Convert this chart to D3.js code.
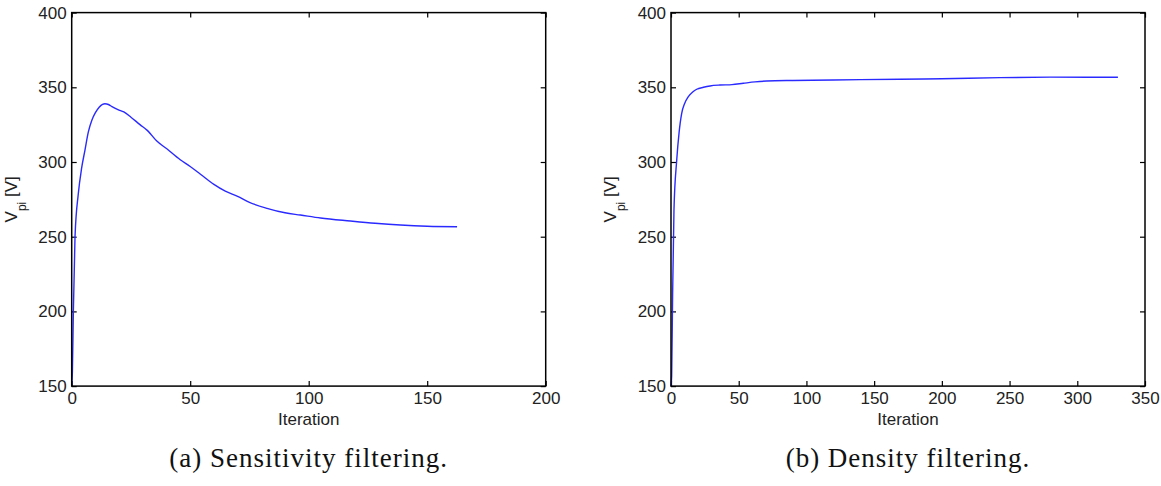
<!DOCTYPE html>
<html>
<head>
<meta charset="utf-8">
<script src="https://cdn.jsdelivr.net/npm/d3@7"></script>
<style>
  body { margin: 0; background: #fff; }
  svg { display: block; }
  .tick text { font-family: "Liberation Sans", Arial, sans-serif; font-size: 17px; fill: #222; }
  .tick line { stroke: #000; stroke-width: 1.2; }
  .domain { display: none; }
</style>
</head>
<body>
<svg width="1161" height="486"></svg>
<script>
// (a) sensitivity filtering
var iterA = [0, 0.3, 0.7, 1.4, 2.8, 4.2, 5.6, 7, 8.5, 10, 11.5, 13, 14, 15.5, 17, 19.5, 22, 25, 28.8, 32,
  35.9, 40, 45.8, 50, 54.2, 60, 64.8, 70, 75, 82.4, 90, 96.5, 105, 117.6, 128, 138.7, 150, 162.6];
var vpiA = [151, 160, 200, 250, 279, 296, 308, 320, 328, 333, 336.5, 338.5, 339, 338.5, 337, 335, 333.5, 330, 325, 321,
  314, 309, 301.5, 297, 292, 285, 280.5, 277, 273, 269, 266, 264.5, 262.5, 260.5, 259, 257.8, 257, 256.7];

// (b) density filtering
var iterB = [0, 0.5, 1.2, 2.2, 4.2, 6, 7.9, 10, 12.8, 16, 19, 24, 28.8, 36.2, 45, 53.4, 62, 70.7, 90, 119.9,
  169, 200, 243, 280, 330];
var vpiB = [150, 157, 212, 268, 301, 320, 332.6, 339, 343.7, 346.8, 348.7, 350, 350.9, 351.5, 351.8, 352.7, 353.6, 354.2, 354.6, 354.9,
  355.4, 355.7, 356.5, 356.8, 356.7];

var xTicksA = [0, 50, 100, 150, 200];
var xTicksB = [0, 50, 100, 150, 200, 250, 300, 350];
var yTicks = [150, 200, 250, 300, 350, 400];

var captions = ["(a) Sensitivity filtering.", "(b) Density filtering."];

var svg = d3.select("svg");
var plotW = 474, plotH = 373.5, plotTop = 12.6;

function panel(left, xs, ys, xMax, xTicks, caption) {
  var g = svg.append("g").attr("transform", "translate(" + left + "," + plotTop + ")");
  var x = d3.scaleLinear().domain([0, xMax]).range([0, plotW]);
  var y = d3.scaleLinear().domain([150, 400]).range([plotH, 0]);

  g.append("g").attr("transform", "translate(0," + plotH + ")")
    .call(d3.axisBottom(x).tickValues(xTicks).tickSize(-5).tickPadding(6));
  g.append("g").call(d3.axisTop(x).tickValues(xTicks).tickSize(-5).tickFormat(""));
  g.append("g").call(d3.axisLeft(y).tickValues(yTicks).tickSize(-5).tickPadding(5));
  g.append("g").attr("transform", "translate(" + plotW + ",0)")
    .call(d3.axisRight(y).tickValues(yTicks).tickSize(-5).tickFormat(""));

  var pts = xs.map(function(d, i) { return [d, ys[i]]; });
  var line = d3.line()
    .x(function(d) { return x(d[0]); })
    .y(function(d) { return y(d[1]); })
    .curve(d3.curveMonotoneX);
  g.append("path").datum(pts)
    .attr("d", line)
    .attr("fill", "none")
    .attr("stroke", "#2a2aff")
    .attr("stroke-width", 1.4);

  g.append("rect").attr("width", plotW).attr("height", plotH)
    .attr("fill", "none").attr("stroke", "#000").attr("stroke-width", 1.5);

  g.append("text")
    .attr("x", plotW / 2).attr("y", plotH + 38.5)
    .attr("text-anchor", "middle")
    .style("font-family", "Liberation Sans, Arial, sans-serif")
    .style("font-size", "17px").style("fill", "#222")
    .text("Iteration");

  var yl = g.append("text")
    .attr("transform", "translate(-55," + (plotH / 2) + ") rotate(-90)")
    .attr("text-anchor", "middle")
    .style("font-family", "Liberation Sans, Arial, sans-serif")
    .style("font-size", "17px").style("fill", "#222");
  yl.append("tspan").text("V");
  yl.append("tspan").attr("dy", 9).style("font-size", "12px").text("pi");
  yl.append("tspan").attr("dy", -9).text(" [V]");

  g.append("text")
    .attr("x", plotW / 2).attr("y", plotH + 80.5)
    .attr("text-anchor", "middle")
    .style("font-family", "Liberation Serif, serif")
    .style("font-size", "27px").style("letter-spacing", "1px").style("fill", "#111")
    .text(caption);
}

panel(71.7, iterA, vpiA, 200, xTicksA, captions[0]);
panel(671, iterB, vpiB, 350, xTicksB, captions[1]);
</script>
</body>
</html>
